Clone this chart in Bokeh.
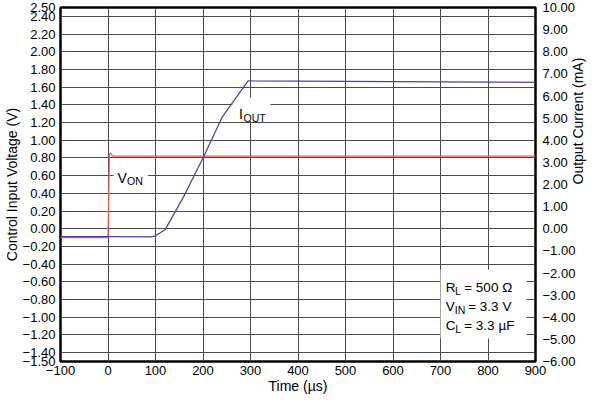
import math
from bokeh.plotting import figure
from bokeh.models import Range1d, LinearAxis, FixedTicker, BoxAnnotation, Label
from bokeh.embed import file_html
from bokeh.resources import INLINE

# ---- data ----
time_von = [-100, 0, 3, 6, 10, 500, 900]          # µs
von_volts = [-0.10, -0.10, 0.85, 0.85, 0.82, 0.82, 0.82]

time_iout = [-100, 0, 90, 100, 120, 159, 200, 240, 276, 295, 400, 500, 600, 700, 800, 900]
iout_ma = [-0.36, -0.36, -0.37, -0.32, -0.05, 1.44, 3.2, 5.03, 6.12, 6.68, 6.67, 6.66, 6.65, 6.64, 6.63, 6.62]

x_tick_values = [-100, 0, 100, 200, 300, 400, 500, 600, 700, 800, 900]
x_tick_labels = ["\u2212100", "0", "100", "200", "300", "400", "500", "600", "700", "800", "900"]

left_tick_values = [2.5, 2.4, 2.2, 2.0, 1.8, 1.6, 1.4, 1.2, 1.0, 0.8, 0.6, 0.4, 0.2, 0.0,
                    -0.2, -0.4, -0.6, -0.8, -1.0, -1.2, -1.4, -1.5]
left_tick_labels = ["2.50", "2.40", "2.20", "2.00", "1.80", "1.60", "1.40", "1.20", "1.00", "0.80",
                    "0.60", "0.40", "0.20", "0.00", "\u22120.20", "\u22120.40", "\u22120.60",
                    "\u22120.80", "\u22121.00", "\u22121.20", "\u22121.40", "\u22121.50"]

right_tick_values = [10, 9, 8, 7, 6, 5, 4, 3, 2, 1, 0, -1, -2, -3, -4, -5, -6]
right_tick_labels = ["10.00", "9.00", "8.00", "7.00", "6.00", "5.00", "4.00", "3.00", "2.00", "1.00",
                     "0.00", "\u22121.00", "\u22122.00", "\u22123.00", "\u22124.00", "\u22125.00", "\u22126.00"]

FONT = "Liberation Sans"
RED = "#EE6040"
BLUE = "#4B3F9E"
GRID = "#4a4a4a"

p = figure(width=597, height=396,
           x_range=Range1d(-100, 900), y_range=Range1d(-1.5, 2.5),
           output_backend="svg", toolbar_location=None,
           x_axis_label="Time (\u00b5s)", y_axis_label="Control Input Voltage (V)")
p.min_border_top = 7
p.min_border_bottom = 0
p.min_border_left = 0
p.min_border_right = 0
p.background_fill_color = "white"
p.border_fill_color = "white"
p.outline_line_color = "black"
p.outline_line_width = 2.5

p.extra_y_ranges = {"ma": Range1d(-6, 10)}
raxis = LinearAxis(y_range_name="ma", axis_label="Output Current (mA)")
p.add_layout(raxis, "right")
try:
    raxis.axis_label_orientation = math.pi / 2   # read bottom-to-top like the reference
except Exception:
    pass

xaxis = p.xaxis[0]
laxis = p.yaxis[0]

xaxis.ticker = FixedTicker(ticks=x_tick_values)
xaxis.major_label_overrides = dict(zip(x_tick_values, x_tick_labels))
laxis.ticker = FixedTicker(ticks=left_tick_values)
laxis.major_label_overrides = dict(zip(left_tick_values, left_tick_labels))
raxis.ticker = FixedTicker(ticks=right_tick_values)
raxis.major_label_overrides = dict(zip(right_tick_values, right_tick_labels))

for ax in (xaxis, laxis, raxis):
    ax.axis_line_color = None
    ax.major_tick_line_color = None
    ax.minor_tick_line_color = None
    ax.major_tick_out = 0
    ax.major_tick_in = 0
    ax.minor_tick_out = 0
    ax.minor_tick_in = 0
    ax.major_label_text_font = FONT
    ax.major_label_text_font_size = "13px"
    ax.major_label_text_color = "black"
    ax.axis_label_text_font = FONT
    ax.axis_label_text_font_size = "14px"
    ax.axis_label_text_font_style = "normal"
    ax.axis_label_text_color = "black"

xaxis.major_label_standoff = 4
xaxis.axis_label_standoff = 0
laxis.major_label_standoff = 5
laxis.axis_label_standoff = 0
raxis.major_label_standoff = 7
raxis.axis_label_standoff = 0

p.xgrid.ticker = FixedTicker(ticks=x_tick_values)
p.ygrid.ticker = FixedTicker(ticks=left_tick_values)
for g in (p.xgrid[0], p.ygrid[0]):
    g.grid_line_color = GRID
    g.grid_line_width = 1
    g.grid_line_alpha = 1

# white boxes behind the annotations (interrupt the grid)
p.add_layout(BoxAnnotation(left=12, right=84, top=0.69, bottom=0.50,
                           fill_color="white", fill_alpha=1, line_color=None, level="underlay"))
p.add_layout(BoxAnnotation(left=262, right=342, top=1.484, bottom=1.221,
                           fill_color="white", fill_alpha=1, line_color=None, level="underlay"))
p.add_layout(BoxAnnotation(left=700, right=881, top=-0.46, bottom=-1.24,
                           fill_color="white", fill_alpha=1, line_color=None, level="underlay"))

# data lines
p.line(time_von, von_volts, line_color=RED, line_width=1.3)
p.line(time_iout, iout_ma, y_range_name="ma", line_color=BLUE, line_width=1.2)


def label(x, y, text, size="13.5px", xo=0, yo=0):
    p.add_layout(Label(x=x, y=y, text=text, x_offset=xo, y_offset=yo,
                       text_font=FONT, text_font_size=size, text_color="black",
                       text_baseline="alphabetic", text_align="left"))


SUB = "10.5px"
# V_ON
label(20, 0.6, "V", size="14px", yo=-2)
label(20, 0.6, "ON", size=SUB, xo=9.5, yo=-5.5)
# I_OUT
label(276, 1.4, "I", size="14px", yo=-9.5)
label(276, 1.4, "OUT", size=SUB, xo=4.5, yo=-13.5)
# conditions box
label(711, -0.664, "R")
label(711, -0.664, "L", size=SUB, xo=9.3, yo=-3.5)
label(711, -0.664, "= 500 \u03a9", xo=18.5)
label(711, -0.877, "V")
label(711, -0.877, "IN", size=SUB, xo=9.0, yo=-3.5)
label(711, -0.877, "= 3.3 V", xo=22.5)
label(711, -1.096, "C")
label(711, -1.096, "L", size=SUB, xo=9.5, yo=-3.5)
label(711, -1.096, "= 3.3 \u00b5F", xo=18.5)

open("out.html", "w").write(file_html(p, INLINE))
